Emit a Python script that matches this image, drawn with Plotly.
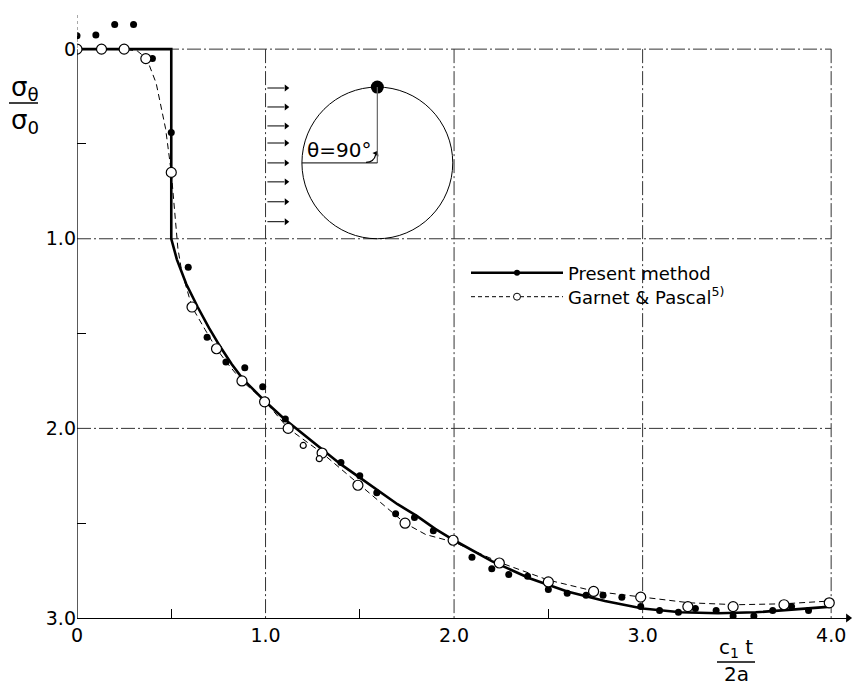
import plotly.graph_objects as go

# ---------------- data ----------------
# Present method: computed points (filled dots)
pm_x = [0, 0.1, 0.2, 0.3, 0.4, 0.5, 0.59, 0.69, 0.79, 0.89, 0.985, 1.105, 1.4, 1.5,
        1.59, 1.69, 1.79, 1.89, 2.095, 2.2, 2.29, 2.39, 2.5, 2.6, 2.7, 2.79, 2.89,
        2.99, 3.09, 3.19, 3.28, 3.39, 3.48, 3.59, 3.69, 3.79, 3.88]
pm_y = [-0.07, -0.075, -0.13, -0.13, 0.05, 0.44, 1.15, 1.52, 1.65, 1.68, 1.78, 1.95, 2.18, 2.25,
        2.34, 2.45, 2.47, 2.54, 2.68, 2.74, 2.77, 2.78, 2.85, 2.87, 2.88, 2.88, 2.89,
        2.94, 2.96, 2.97, 2.95, 2.96, 2.99, 2.99, 2.96, 2.94, 2.96]
# Present method: solid curve
pm_line_x = [0, 0.5, 0.5, 0.53, 0.58, 0.64, 0.7, 0.76, 0.82, 0.88, 0.94, 1.0, 1.1, 1.2, 1.3,
             1.4, 1.5, 1.6, 1.7, 1.8, 1.9, 2.0, 2.2, 2.4, 2.6, 2.8, 3.0, 3.2, 3.4, 3.6, 3.8, 4.0]
pm_line_y = [0, 0, 1.0, 1.11, 1.24, 1.36, 1.47, 1.57, 1.66, 1.74, 1.80, 1.86, 1.95, 2.03, 2.11,
             2.19, 2.26, 2.33, 2.40, 2.46, 2.53, 2.59, 2.70, 2.79, 2.86, 2.91, 2.95, 2.97, 2.975,
             2.97, 2.955, 2.94]
# Garnet & Pascal: open circles
gp_x = [0, 0.13, 0.25, 0.365, 0.5, 0.61, 0.74, 0.875, 0.995, 1.12, 1.3, 1.49, 1.74, 1.995,
        2.24, 2.5, 2.74, 2.99, 3.24, 3.48, 3.75, 3.99]
gp_y = [0, 0, 0, 0.05, 0.65, 1.36, 1.58, 1.75, 1.86, 2.0, 2.13, 2.30, 2.50, 2.59,
        2.71, 2.81, 2.86, 2.89, 2.94, 2.94, 2.93, 2.92]
# Garnet & Pascal: dashed curve
gp_line_x = [0, 0.25, 0.32, 0.37, 0.42, 0.47, 0.5, 0.52, 0.535, 0.555, 0.61, 0.68, 0.74, 0.8,
             0.875, 1.0, 1.12, 1.3, 1.5, 1.62, 1.74, 1.85, 2.0, 2.25, 2.5, 2.75, 3.0, 3.25,
             3.5, 3.75, 4.0]
gp_line_y = [0, 0, 0.01, 0.05, 0.18, 0.42, 0.65, 0.9, 1.05, 1.17, 1.36, 1.48, 1.58, 1.66,
             1.75, 1.86, 2.0, 2.13, 2.30, 2.40, 2.50, 2.56, 2.60, 2.71, 2.80, 2.86, 2.89, 2.92,
             2.93, 2.925, 2.91]
# two small open circles
sm_x = [1.2, 1.285]
sm_y = [2.09, 2.16]

x_tickvals = [0, 1, 2, 3, 4]
x_ticktext = ["0", "1.0", "2.0", "3.0", "4.0"]
y_tickvals = [0, 1, 2, 3]
y_ticktext = ["0", "1.0", "2.0", "3.0"]
minor_vals = [0.5, 1.5, 2.5]

# inset diagram geometry (data units)
circ_cx, circ_cy, circ_r = 1.593, 0.6, 0.4
arrow_y = [0.205, 0.305, 0.405, 0.495, 0.6, 0.7, 0.805, 0.91]
arrow_x0, arrow_x1 = 1.01, 1.11

FONT = "DejaVu Sans"
L, R, T, B = 77, 11, 15, 69
W, H = 861, 687
PW, PH = W - L - R, H - T - B


def px(xp):
    return (xp - L) / PW


def py(yp):
    return 1 - (yp - T) / PH


fig = go.Figure()

fig.add_trace(go.Scatter(x=gp_line_x, y=gp_line_y, mode="lines", showlegend=False,
                         line=dict(color="black", width=1, dash="6px,4px")))
fig.add_trace(go.Scatter(x=pm_line_x, y=pm_line_y, mode="lines", showlegend=False,
                         line=dict(color="black", width=2.6)))
fig.add_trace(go.Scatter(x=pm_x, y=pm_y, mode="markers", showlegend=False,
                         marker=dict(size=7, color="black")))
fig.add_trace(go.Scatter(x=gp_x, y=gp_y, mode="markers", showlegend=False,
                         marker=dict(size=10, color="white", line=dict(color="black", width=1.2))))
fig.add_trace(go.Scatter(x=sm_x, y=sm_y, mode="markers", showlegend=False,
                         marker=dict(size=6, color="white", line=dict(color="black", width=1.2))))
# dot on the circle
fig.add_trace(go.Scatter(x=[circ_cx], y=[circ_cy - circ_r], mode="markers", showlegend=False,
                         marker=dict(size=13, color="black")))

# flow arrows (shafts + heads)
shaft_x, shaft_y = [], []
for ay in arrow_y:
    shaft_x += [arrow_x0, arrow_x1 - 0.01, None]
    shaft_y += [ay, ay, None]
fig.add_trace(go.Scatter(x=shaft_x, y=shaft_y, mode="lines", showlegend=False, hoverinfo="skip",
                         line=dict(color="black", width=1)))
fig.add_trace(go.Scatter(x=[arrow_x1] * len(arrow_y), y=arrow_y, mode="markers", showlegend=False,
                         hoverinfo="skip",
                         marker=dict(symbol="triangle-right", size=6, color="black")))
# angle arrow head + x-axis arrow head
fig.add_trace(go.Scatter(x=[circ_cx - 0.006], y=[circ_cy - 0.05], mode="markers", showlegend=False,
                         hoverinfo="skip",
                         marker=dict(symbol="triangle-up", size=6, angle=30, color="black")))
fig.add_trace(go.Scatter(x=[4.09], y=[3.0], mode="markers", showlegend=False, hoverinfo="skip",
                         cliponaxis=False,
                         marker=dict(symbol="triangle-right", size=8, color="black")))

# legend entries (two separate legends to control row spacing)
fig.add_trace(go.Scatter(x=[None], y=[None], mode="lines+markers", name="Present method",
                         legend="legend",
                         line=dict(color="black", width=2.6), marker=dict(size=6, color="black")))
fig.add_trace(go.Scatter(x=[None], y=[None], mode="lines+markers",
                         name="Garnet & Pascal<sup>5)</sup>", legend="legend2",
                         line=dict(color="black", width=1, dash="4px,3px"),
                         marker=dict(size=7, color="white", line=dict(color="black", width=1))))

grid = dict(color="#333", width=1, dash="14px,3px,2px,3px")
shapes = []
for gx in [1, 2, 3, 4]:
    shapes.append(dict(type="line", xref="x", yref="y", x0=gx, x1=gx, y0=0, y1=3, line=grid, layer="below"))
for gy in [0, 1, 2]:
    shapes.append(dict(type="line", xref="x", yref="y", x0=0, x1=4.0, y0=gy, y1=gy, line=grid, layer="below"))
# y axis line
shapes.append(dict(type="line", xref="x", yref="y", x0=0, x1=0, y0=0, y1=3,
                   line=dict(color="black", width=1.3)))
shapes.append(dict(type="line", xref="x", yref="y", x0=0, x1=0, y0=-0.18, y1=0,
                   line=dict(color="#555", width=1, dash="dot")))
# inset circle
shapes.append(dict(type="circle", xref="x", yref="y", x0=circ_cx - circ_r, x1=circ_cx + circ_r,
                   y0=circ_cy - circ_r, y1=circ_cy + circ_r, line=dict(color="black", width=1)))
shapes.append(dict(type="line", xref="x", yref="y", x0=circ_cx, x1=circ_cx, y0=circ_cy - circ_r,
                   y1=circ_cy, line=dict(color="#666", width=1.2)))
shapes.append(dict(type="line", xref="x", yref="y", x0=circ_cx - circ_r, x1=circ_cx, y0=circ_cy,
                   y1=circ_cy, line=dict(color="black", width=1)))
shapes.append(dict(type="path", xref="x", yref="y",
                   path=f"M {circ_cx-0.06},{circ_cy-0.003} Q {circ_cx-0.018},{circ_cy-0.003} {circ_cx-0.008},{circ_cy-0.045}",
                   line=dict(color="black", width=1.2)))
# fraction bars
shapes.append(dict(type="line", xref="paper", yref="paper", x0=px(9), x1=px(38), y0=py(103), y1=py(103),
                   line=dict(color="black", width=1.5)))
shapes.append(dict(type="line", xref="paper", yref="paper", x0=px(717), x1=px(755), y0=py(662), y1=py(662),
                   line=dict(color="black", width=1.5)))

ann = []
ann.append(dict(x=1.39, y=0.53, xref="x", yref="y", text="θ=90°", showarrow=False,
                font=dict(family=FONT, size=20, color="black")))
# axis titles
ctr = dict(xanchor="center", yanchor="middle", showarrow=False, xref="paper", yref="paper")
ann.append(dict(x=px(25), y=py(88), text="σ<sub>θ</sub>",
                font=dict(family=FONT, size=26, color="black"), **ctr))
ann.append(dict(x=px(25), y=py(122), text="σ<sub>0</sub>",
                font=dict(family=FONT, size=26, color="black"), **ctr))
ann.append(dict(x=px(736), y=py(648), text="c<sub>1</sub> t",
                font=dict(family=FONT, size=20, color="black"), **ctr))
ann.append(dict(x=px(736), y=py(674), text="2a",
                font=dict(family=FONT, size=20, color="black"), **ctr))

leg_common = dict(xanchor="left", yanchor="middle", bgcolor="rgba(0,0,0,0)",
                  font=dict(family=FONT, size=18, color="black"), itemwidth=92)

fig.update_layout(
    width=W, height=H,
    margin=dict(l=L, r=R, t=T, b=B),
    paper_bgcolor="white", plot_bgcolor="white",
    font=dict(family=FONT, size=19, color="black"),
    shapes=shapes, annotations=ann,
    legend=dict(x=px(466), y=py(273), **leg_common),
    legend2=dict(x=px(466), y=py(297), **leg_common),
    xaxis=dict(range=[0, 4.1], showgrid=False, zeroline=False, showline=True, linecolor="black",
               linewidth=1.3, tickvals=x_tickvals, ticktext=x_ticktext, ticks="",
               minor=dict(tickvals=minor_vals, ticks="inside", ticklen=9, tickcolor="black", tickwidth=1.2),
               tickfont=dict(family=FONT, size=19, color="black")),
    yaxis=dict(range=[3.0, -0.18], showgrid=False, zeroline=False, showline=False,
               tickvals=y_tickvals, ticktext=y_ticktext, ticks="",
               minor=dict(tickvals=minor_vals, ticks="inside", ticklen=9, tickcolor="black", tickwidth=1.2),
               tickfont=dict(family=FONT, size=19, color="black")),
)

fig.write_html("out.html")
